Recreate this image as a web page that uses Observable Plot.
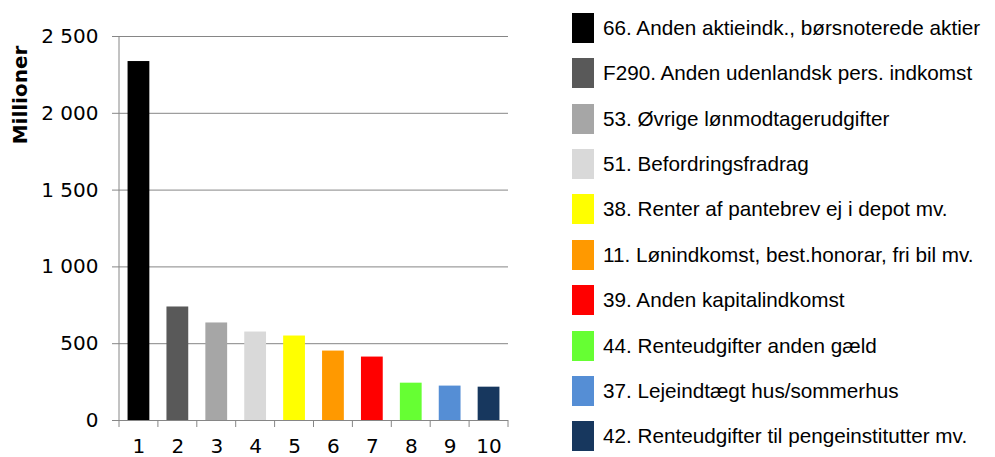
<!DOCTYPE html>
<html><head><meta charset="utf-8">
<script src="https://cdn.jsdelivr.net/npm/d3@7"></script>
<script src="https://cdn.jsdelivr.net/npm/@observablehq/plot@0.6"></script>
<style>
body{margin:0;background:#fff;}
#wrap{position:relative;width:995px;height:457px;overflow:hidden;background:#fff;}
#chart{position:absolute;left:0;top:0;}
#legend{position:absolute;left:572px;top:0;font-family:"Liberation Sans",Arial,sans-serif;font-size:20.7px;color:#000;}
.item{position:absolute;left:0;height:30px;display:flex;align-items:center;white-space:nowrap;}
.sw{width:22px;height:30px;margin-right:9px;flex:none;}
</style></head><body>
<div id="wrap"><div id="chart"></div><div id="legend"></div></div>
<script>
const categories = ["1","2","3","4","5","6","7","8","9","10"];
const values = [2337, 739, 635, 576, 550, 452, 413, 243, 224, 217];
const seriesNames = [
  "66. Anden aktieindk., børsnoterede aktier",
  "F290. Anden udenlandsk pers. indkomst",
  "53. Øvrige lønmodtagerudgifter",
  "51. Befordringsfradrag",
  "38. Renter af pantebrev ej i depot mv.",
  "11. Lønindkomst, best.honorar, fri bil mv.",
  "39. Anden kapitalindkomst",
  "44. Renteudgifter anden gæld",
  "37. Lejeindtægt hus/sommerhus",
  "42. Renteudgifter til pengeinstitutter mv."
];
const colors = ["#000000","#595959","#a6a6a6","#d9d9d9","#ffff00","#ff9900","#ff0000","#66ff33","#558ed5","#17375e"];
const yTicks = [0, 500, 1000, 1500, 2000, 2500];
const yLabel = "Millioner";

const data = categories.map((c, i) => ({cat: c, value: values[i]}));
const fmt = d => d3.format(",")(d).replace(/,/g, " ");
const gray = "#868686";

const chart = Plot.plot({
  width: 530, height: 457,
  marginLeft: 119, marginRight: 22, marginTop: 36, marginBottom: 37,
  style: {fontFamily: "'DejaVu Sans', Verdana, sans-serif", fontSize: "20px", color: "#000", background: "#fff", overflow: "visible"},
  x: {domain: categories, paddingInner: 0.44, paddingOuter: 0.22, round: false, label: null},
  y: {domain: [0, 2500], label: null},
  color: {domain: categories, range: colors},
  marks: [
    Plot.gridY(yTicks, {stroke: gray, strokeOpacity: 1, strokeWidth: 1}),
    Plot.barY(data, {x: "cat", y: "value", fill: "cat"}),
    Plot.axisY(yTicks, {tickSize: 7, tickPadding: 14, tickFormat: fmt, stroke: gray, label: null}),
    Plot.axisX({tickSize: 0, tickPadding: 18, label: null}),
    Plot.ruleY([0], {stroke: gray})
  ]
});

// left axis line and category boundary ticks, from the plot's scales
const xs = chart.scale("x"), ys = chart.scale("y");
const [r0, r1] = xs.range;
const [yb, yt] = ys.range;
const svg = d3.select(chart);
const g = svg.append("g").attr("stroke", gray).attr("stroke-width", 1);
g.append("line").attr("x1", r0).attr("x2", r0).attr("y1", yt).attr("y2", yb + 7);
const step = (r1 - r0) / categories.length;
for (let k = 1; k <= categories.length; k++) {
  const x = r0 + k * step;
  g.append("line").attr("x1", x).attr("x2", x).attr("y1", yb).attr("y2", yb + 7);
}
svg.append("text")
  .attr("transform", `translate(27,95) rotate(-90)`)
  .attr("text-anchor", "middle")
  .attr("font-weight", "bold")
  .attr("font-size", "20px")
  .attr("fill", "#000")
  .text(yLabel);

document.getElementById("chart").appendChild(chart);

const legend = document.getElementById("legend");
seriesNames.forEach((name, i) => {
  const it = document.createElement("div");
  it.className = "item";
  it.style.top = (12.7 + i * 45.4) + "px";
  const sw = document.createElement("div");
  sw.className = "sw";
  sw.style.background = colors[i];
  const tx = document.createElement("span");
  tx.textContent = name;
  it.appendChild(sw); it.appendChild(tx);
  legend.appendChild(it);
});
</script>
</body></html>
